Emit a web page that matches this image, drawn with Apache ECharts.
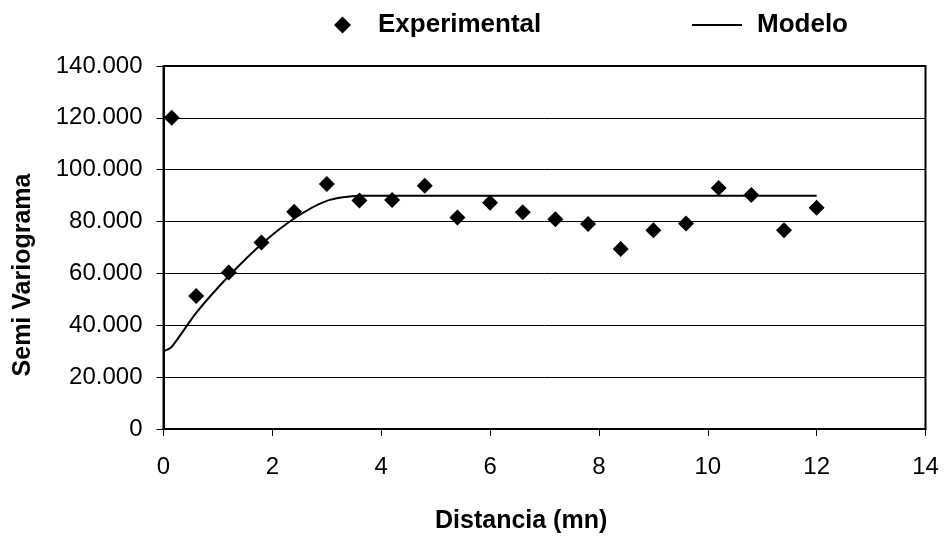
<!DOCTYPE html>
<html>
<head>
<meta charset="utf-8">
<script src="https://cdn.jsdelivr.net/npm/echarts@6/dist/echarts.min.js"></script>
<style>html,body{margin:0;padding:0;background:#fff}#c{width:945px;height:548px}</style>
</head>
<body>
<div id="c"></div>
<script>
// Data
const expX = [0.15, 0.6, 1.2, 1.8, 2.4, 3.0, 3.6, 4.2, 4.8, 5.4, 6.0, 6.6, 7.2, 7.8, 8.4, 9.0, 9.6, 10.2, 10.8, 11.4, 12.0];
const expY = [120000, 51300, 60400, 71900, 83800, 94500, 88100, 88300, 93800, 81600, 87300, 83600, 80900, 79100, 69400, 76700, 79300, 92900, 90200, 76700, 85300];
const modX = [0, 0.15, 0.6, 1.2, 1.8, 2.4, 3.0, 3.6, 4.2, 4.8, 5.4, 6.0, 6.6, 7.2, 7.8, 8.4, 9.0, 9.6, 10.2, 10.8, 11.4, 12.0];
const modY = [30000, 31700, 44800, 59000, 71300, 81200, 88000, 90000, 90000, 90000, 90000, 90000, 90000, 90000, 90000, 90000, 90000, 90000, 90000, 90000, 90000, 90000];
const seriesNames = ['Experimental', 'Modelo'];
const xTitle = 'Distancia (mn)';
const yTitle = 'Semi Variograma';

const FONT = '"Liberation Sans", Arial, sans-serif';
function fmt(v) { return String(v).replace(/\B(?=(\d{3})+(?!\d))/g, '.'); }

const chart = echarts.init(document.getElementById('c'), null, {renderer: 'canvas'});
chart.setOption({
  animation: false,
  backgroundColor: '#fff',
  textStyle: {fontFamily: FONT, color: '#000'},
  grid: {left: 163.5, right: 19.5, top: 66, bottom: 119, show: true, borderColor: '#000', borderWidth: 2, backgroundColor: 'transparent'},
  legend: [
    {
      data: [{name: seriesNames[0], icon: 'diamond'}],
      left: 329, top: 5, itemWidth: 17, itemHeight: 17,
      textStyle: {fontFamily: FONT, fontSize: 26, fontWeight: 'bold', color: '#000', padding: [0, 0, 0, 22], lineHeight: 30},
      itemStyle: {color: '#000', opacity: 1}
    },
    {
      data: [{name: seriesNames[1], icon: 'rect'}],
      left: 687, top: 5, itemWidth: 50, itemHeight: 2,
      textStyle: {fontFamily: FONT, fontSize: 26, fontWeight: 'bold', color: '#000', padding: [0, 0, 0, 10], lineHeight: 30},
      itemStyle: {color: '#000'}
    }
  ],
  xAxis: {
    type: 'value', min: 0, max: 14, interval: 2,
    axisLine: {show: true, lineStyle: {color: '#000', width: 2}},
    axisTick: {show: true, length: 7, lineStyle: {color: '#000', width: 1}},
    axisLabel: {fontFamily: FONT, fontSize: 24, color: '#000', margin: 26},
    splitLine: {show: false}
  },
  yAxis: {
    type: 'value', min: 0, max: 140000, interval: 20000,
    axisLine: {show: true, lineStyle: {color: '#000', width: 2}},
    axisTick: {show: true, length: 7, lineStyle: {color: '#000', width: 1}},
    axisLabel: {fontFamily: FONT, fontSize: 24, color: '#000', margin: 21, formatter: fmt},
    splitLine: {show: true, lineStyle: {color: '#000', width: 1}}
  },
  graphic: [
    {type: 'text', left: 435, top: 509, style: {text: xTitle, font: 'bold 25px ' + FONT, fill: '#000'}},
    {type: 'text', x: 23, y: 275, rotation: Math.PI / 2,
     style: {text: yTitle, font: 'bold 25px ' + FONT, fill: '#000', align: 'center', verticalAlign: 'middle'}}
  ],
  series: [
    {
      name: seriesNames[0], type: 'scatter', symbol: 'diamond', symbolSize: 16,
      itemStyle: {color: '#000', opacity: 1},
      data: expX.map((x, i) => [x, expY[i]]), z: 3
    },
    {
      name: seriesNames[1], type: 'line', showSymbol: false, symbol: 'none', smooth: 0.25,
      lineStyle: {color: '#000', width: 2}, itemStyle: {color: '#000'},
      data: modX.map((x, i) => [x, modY[i]]), z: 2
    }
  ]
});
</script>
</body>
</html>
